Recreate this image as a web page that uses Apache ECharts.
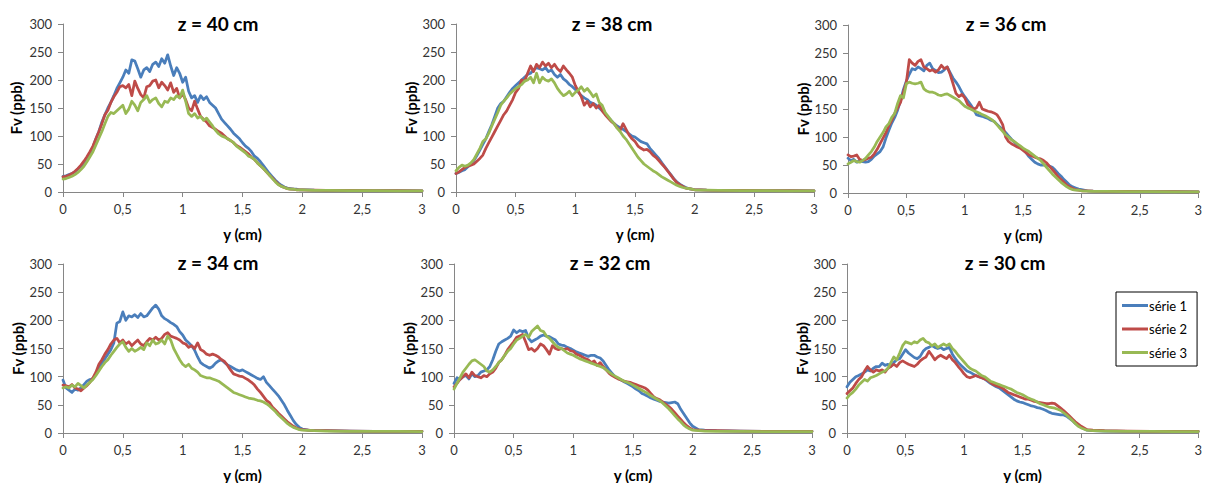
<!DOCTYPE html>
<html><head><meta charset="utf-8">
<script src="https://cdn.jsdelivr.net/npm/echarts@6/dist/echarts.min.js"></script>
<style>html,body{margin:0;padding:0;background:#fff}#c{width:1205px;height:483px}</style>
</head><body><div id="c"></div><script>
// y positions (cm)
const XS = [0,0.025,0.05,0.075,0.1,0.125,0.15,0.175,0.2,0.225,
0.25,0.275,0.3,0.325,0.35,0.375,0.4,0.425,0.45,0.475,
0.5,0.525,0.55,0.575,0.6,0.625,0.65,0.675,0.7,0.725,
0.75,0.775,0.8,0.825,0.85,0.875,0.9,0.925,0.95,0.975,
1,1.025,1.05,1.075,1.1,1.125,1.15,1.175,1.2,1.225,
1.25,1.275,1.3,1.325,1.35,1.375,1.4,1.425,1.45,1.475,
1.5,1.525,1.55,1.575,1.6,1.625,1.65,1.675,1.7,1.725,
1.75,1.775,1.8,1.825,1.85,1.875,1.9,1.925,1.95,1.975,
2,2.05,2.1,2.2,2.4,2.6,2.8,3];

const TITLES = ['z = 40 cm','z = 38 cm','z = 36 cm','z = 34 cm','z = 32 cm','z = 30 cm'];
const SERIES_NAMES = ['série 1','série 2','série 3'];
const X_TICKS = [0,0.5,1,1.5,2,2.5,3];
const Y_TICKS = [0,50,100,150,200,250,300];

const z40_s1 = [28,29,31,33,36,41,46,52,60,68,
80,95,108,125,138,150,160,172,185,195,
205,218,212,236,234,220,205,218,222,215,
228,232,224,238,230,245,225,208,222,212,
196,205,180,168,172,160,172,165,170,160,
155,150,140,130,124,118,112,105,100,95,
88,82,78,72,64,60,54,47,40,33,
27,21,16,12,9,7,6,5,5,4,
4,4,3.5,3,3,2.5,2.5,2];
const z40_s2 = [27,28,30,33,37,42,48,55,63,72,
82,95,108,122,138,146,160,170,178,188,
190,186,192,172,198,185,174,168,188,190,
198,200,186,196,190,182,195,178,185,168,
175,165,150,145,162,148,135,130,125,118,
115,112,108,105,100,95,92,88,83,80,
76,72,68,62,58,52,47,42,36,30,
25,19,14,10,8,6,5,5,4,4,
4,3.5,3.5,3,3,2.5,2.5,2];
const z40_s3 = [23,24,26,28,31,35,40,46,54,63,
72,84,96,108,122,135,142,140,145,150,
155,140,148,162,155,145,160,165,172,160,
165,168,158,152,162,160,168,165,172,168,
182,162,140,135,140,132,135,128,132,125,
118,110,104,100,98,95,92,88,82,78,
74,70,64,62,58,52,47,42,36,30,
24,18,13,10,8,6,5,5,4,4,
4,3.5,3,3,2.5,2.5,2,2];

const z38_s1 = [33,35,38,40,45,50,56,65,75,85,
95,108,120,135,150,158,162,170,178,185,
190,195,200,205,210,212,218,222,220,218,
222,215,218,210,205,210,202,198,192,188,
183,178,172,168,165,160,158,155,150,145,
140,133,128,122,118,115,112,108,104,100,
98,94,90,88,86,78,72,66,60,52,
45,38,31,24,18,14,11,8,6,5,
4,4,3.5,3,3,2.5,2.5,2];
const z38_s2 = [33,36,40,44,46,48,50,55,60,66,
78,88,98,108,118,128,138,145,155,165,
178,185,200,198,212,225,215,228,222,232,
225,230,222,228,220,215,225,218,212,205,
190,180,170,155,162,152,158,150,155,145,
138,132,126,122,115,110,122,112,102,95,
90,82,78,75,76,72,66,62,56,50,
44,37,30,23,17,13,10,7,6,5,
4,4,3.5,3,3,2.5,2.5,2];
const z38_s3 = [38,44,48,46,48,52,58,68,78,90,
95,105,118,130,142,155,162,168,175,180,
185,188,192,198,200,205,195,212,195,205,
200,198,202,195,185,178,172,175,180,172,
178,182,188,180,185,178,170,175,160,155,
142,135,128,122,114,108,100,94,86,78,
70,62,56,50,46,42,38,35,31,27,
24,21,18,15,12,10,8,7,6,5,
4,3.5,3.5,3,2.5,2.5,2,2];

const z36_s1 = [62,58,60,55,58,56,55,56,60,66,
70,74,82,98,112,125,135,148,165,185,
200,212,222,220,225,222,218,228,232,222,
219,215,216,220,225,215,205,198,190,180,
172,165,158,150,140,138,137,135,133,130,
128,123,118,113,108,102,96,91,86,82,
78,72,65,60,55,52,50,50,50,48,
46,41,35,30,24,19,14,11,9,7,
6,4,3.5,3,3,2.5,2.5,2];
const z36_s2 = [68,65,66,68,60,58,60,62,64,70,
78,88,98,108,120,130,142,152,162,180,
198,238,232,228,235,238,225,222,218,220,
216,220,228,222,225,212,195,178,172,176,
170,158,154,150,152,162,150,148,146,145,
143,140,132,122,100,92,88,85,82,80,
76,72,68,66,64,62,61,58,54,48,
42,36,29,24,19,14,11,8,6,5,
4,4,3.5,3,3,2.5,2.5,2];
const z36_s3 = [52,55,58,56,55,58,62,68,74,82,
92,100,108,118,124,135,142,160,174,170,
195,198,196,195,196,198,186,182,180,180,
178,175,174,176,177,174,171,168,165,160,
155,152,150,147,145,143,140,138,135,132,
128,122,116,110,104,100,95,92,88,84,
80,77,74,70,66,62,58,52,46,40,
34,29,24,19,15,11,8,6,5,5,
4,3.5,3,3,2.5,2.5,2,2];

const z34_s1 = [94,80,76,72,78,76,80,86,92,95,
96,105,115,124,132,140,148,160,195,198,
215,200,208,206,210,205,212,206,208,215,
222,227,220,208,203,200,196,193,189,180,
174,165,160,155,147,135,125,121,118,115,
118,124,128,130,125,121,118,115,112,110,
112,109,106,103,100,97,95,100,90,84,
78,72,66,58,50,40,31,22,15,10,
7,5,4.5,4,3.5,3,3,3];
const z34_s2 = [85,84,82,86,80,78,75,80,84,90,
98,108,122,130,140,148,158,165,168,160,
165,158,162,155,160,165,158,155,162,168,
165,170,165,168,175,178,172,170,168,165,
160,158,152,155,150,160,148,145,140,138,
140,138,135,130,127,120,112,105,103,101,
100,97,94,90,85,78,72,65,58,54,
46,41,35,30,25,20,16,12,9,7,
6,5,4,4,3.5,3,3,3];
const z34_s3 = [80,82,80,85,82,88,84,80,85,90,
95,102,110,118,125,130,138,145,152,158,
162,152,145,150,145,148,152,148,160,155,
165,158,160,165,158,172,165,150,140,130,
122,118,122,115,112,108,102,100,98,98,
96,94,92,88,84,80,76,72,70,68,
66,64,62,61,60,58,57,55,52,48,
43,38,32,27,22,17,13,10,8,6,
5,4.5,4,3.5,3,3,3,2.5];

const z32_s1 = [88,98,95,100,102,96,105,100,102,108,
110,112,118,130,145,158,162,165,168,172,
183,178,182,180,182,168,162,165,168,172,
174,172,171,168,165,158,156,155,152,150,
147,144,142,140,138,136,138,138,135,133,
128,120,112,106,100,97,94,91,88,85,
82,78,75,70,68,65,62,60,58,56,
55,54,53,54,55,52,42,34,26,18,
12,6,5,4,3.5,3,3,3];
const z32_s2 = [82,88,95,100,105,98,108,102,100,98,
102,100,105,108,115,125,130,138,148,155,
162,170,172,175,162,148,150,145,150,158,
155,148,140,155,150,148,150,148,150,146,
145,140,138,135,132,130,125,128,120,125,
118,112,106,102,99,96,94,92,91,90,
88,86,84,82,80,76,70,64,61,59,
55,51,47,42,36,30,24,18,13,9,
6,5,4,4,3.5,3,3,3];
const z32_s3 = [78,88,98,108,115,122,128,130,126,122,
118,110,108,112,118,125,130,138,145,150,
158,165,168,172,175,170,180,185,190,182,
180,172,168,162,156,152,150,146,142,140,
138,135,132,130,128,126,124,122,120,118,
116,112,108,104,101,98,95,92,90,88,
85,82,79,76,73,70,66,63,60,57,
53,48,43,37,31,25,20,14,10,7,
5,4,3.5,3,3,2.5,2.5,2.5];

const z30_s1 = [82,90,95,100,102,105,108,112,110,115,
118,118,124,120,122,118,125,130,132,140,
148,142,138,134,132,136,145,150,152,155,
152,150,152,148,150,152,140,132,125,120,
115,110,108,105,102,100,98,96,92,88,
85,82,80,76,72,68,64,60,57,55,
54,52,50,48,47,45,44,42,40,37,
35,34,33,32,32,30,26,22,17,13,
10,5,4,3.5,3,3,3,2.5];
const z30_s2 = [70,75,80,88,95,100,110,118,112,108,
112,110,112,108,115,118,122,118,125,128,
125,122,120,118,122,128,132,135,145,138,
130,135,138,135,132,138,130,125,118,112,
105,100,98,100,102,100,98,96,94,90,
86,84,82,80,76,72,70,68,66,64,
62,60,60,58,56,55,54,53,52,52,
53,52,48,44,40,35,30,25,20,16,
12,6,5,4,3.5,3,3,3];
const z30_s3 = [62,68,72,78,85,90,95,92,98,100,
102,105,108,110,115,125,135,130,142,155,
162,160,158,162,160,165,168,162,160,155,
158,152,155,158,155,158,150,145,138,132,
126,120,115,112,110,106,102,100,96,92,
90,88,86,84,82,80,78,75,72,70,
68,65,62,60,58,55,52,50,48,46,
45,44,42,40,36,32,27,22,17,12,
9,5,4,3.5,3,3,2.5,2.5];

const PANEL_DATA = [
  [z40_s1, z40_s2, z40_s3],
  [z38_s1, z38_s2, z38_s3],
  [z36_s1, z36_s2, z36_s3],
  [z34_s1, z34_s2, z34_s3],
  [z32_s1, z32_s2, z32_s3],
  [z30_s1, z30_s2, z30_s3]
];

// ---- layout / style (not data) ----
const COLORS = ['#4A7EBB', '#BE4B48', '#98B954'];
const FONT = 'Lato, "Open Sans", sans-serif';
const LAYOUT = [
  {left: 63,  top: 24,  width: 359, height: 168, nameGap: 40, tx: 218,  ty: 14},
  {left: 456, top: 24,  width: 358, height: 168, nameGap: 36, tx: 612,  ty: 14},
  {left: 848, top: 25,  width: 358, height: 168, nameGap: 36, tx: 1006, ty: 14},
  {left: 63,  top: 264, width: 359, height: 169, nameGap: 38, tx: 218,  ty: 253},
  {left: 454, top: 264, width: 358, height: 169, nameGap: 37, tx: 610,  ty: 253},
  {left: 847, top: 264, width: 357, height: 169, nameGap: 37, tx: 1005, ty: 253}
];

const axisLineStyle = {lineStyle: {color: '#868686', width: 1}};
const grids = [], xAxes = [], yAxes = [], titles = [], series = [];

LAYOUT.forEach((L, i) => {
  grids.push({left: L.left, top: L.top, width: L.width, height: L.height, containLabel: false});
  titles.push({
    text: TITLES[i], left: L.tx, top: L.ty, textAlign: 'center', padding: 0,
    textStyle: {fontFamily: FONT, fontWeight: 'bold', fontSize: 19, color: '#000'}
  });
  xAxes.push({
    type: 'value', gridIndex: i, min: X_TICKS[0], max: X_TICKS[X_TICKS.length - 1],
    interval: X_TICKS[1] - X_TICKS[0],
    axisLine: Object.assign({show: true, onZero: false}, axisLineStyle),
    axisTick: {show: true, length: 5, lineStyle: {color: '#868686'}},
    splitLine: {show: false},
    axisLabel: {
      margin: 10, color: '#333', fontFamily: FONT, fontSize: 13,
      formatter: v => String(v).replace('.', ',')
    },
    name: 'y (cm)', nameLocation: 'middle', nameGap: 34,
    nameTextStyle: {fontFamily: FONT, fontWeight: 'bold', fontSize: 15, color: '#000'}
  });
  yAxes.push({
    type: 'value', gridIndex: i, min: Y_TICKS[0], max: Y_TICKS[Y_TICKS.length - 1],
    interval: Y_TICKS[1] - Y_TICKS[0],
    axisLine: Object.assign({show: true}, axisLineStyle),
    axisTick: {show: true, length: 5, lineStyle: {color: '#868686'}},
    splitLine: {show: false},
    axisLabel: {margin: 11, color: '#333', fontFamily: FONT, fontSize: 13},
    name: 'Fv (ppb)', nameLocation: 'middle', nameGap: L.nameGap, nameRotate: 90,
    nameTextStyle: {fontFamily: FONT, fontWeight: 'bold', fontSize: 15, color: '#000'}
  });
  PANEL_DATA[i].forEach((vals, s) => {
    series.push({
      type: 'line', name: SERIES_NAMES[s], xAxisIndex: i, yAxisIndex: i,
      data: XS.map((x, k) => [x, vals[k]]),
      showSymbol: false, symbol: 'none', smooth: false,
      lineStyle: {color: COLORS[s], width: 2.75, join: 'round', cap: 'round'},
      itemStyle: {color: COLORS[s]},
      emphasis: {disabled: true}, silent: true
    });
  });
});

const chart = echarts.init(document.getElementById('c'), null, {renderer: 'svg'});
chart.setOption({
  animation: false,
  backgroundColor: '#fff',
  title: titles,
  grid: grids,
  xAxis: xAxes,
  yAxis: yAxes,
  legend: {
    data: SERIES_NAMES, orient: 'vertical', left: 1116, top: 292,
    padding: [7, 10, 7, 6], itemGap: 10.5, itemWidth: 26, itemHeight: 3, icon: 'rect',
    borderColor: '#000', borderWidth: 1, backgroundColor: '#fff',
    textStyle: {fontFamily: FONT, fontSize: 13, color: '#000', padding: [0, 0, 0, -4]}
  },
  series: series
});
</script></body></html>
